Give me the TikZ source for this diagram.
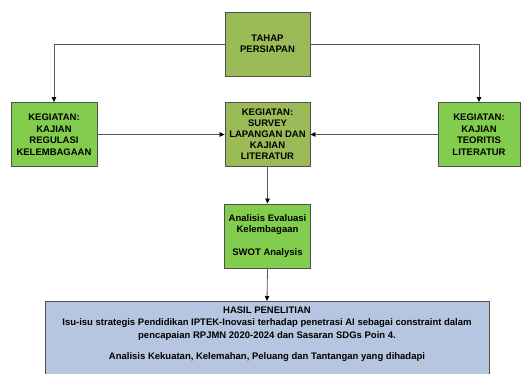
\documentclass[tikz,border=0pt]{standalone}
\usepackage{fontspec}
\setmainfont{Liberation Sans}
\usetikzlibrary{arrows.meta}
\definecolor{olive}{HTML}{9BBB59}
\definecolor{brightgreen}{HTML}{82CD4E}
\definecolor{hasilblue}{HTML}{B7C6E0}
\definecolor{edgegray}{HTML}{505050}
\tikzset{
  box/.style={draw=edgegray, line width=0.9pt, align=center, inner sep=1pt,
    font=\fontsize{9.5}{11.5}\selectfont\bfseries},
  olivebox/.style={box, fill=olive},
  greenbox/.style={box, fill=brightgreen},
  conn/.style={draw=black!65, line width=0.8pt, -{Triangle[length=5pt,width=4.5pt,color=black]}},
}
\begin{document}
\begin{tikzpicture}[x=1pt,y=-1pt]
\clip (0,0) rectangle (521,374);
\fill[white] (0,0) rectangle (521,374);
\node[olivebox, minimum width=85, minimum height=64] (tahap) at (267.5,44) {TAHAP\\PERSIAPAN};
\node[greenbox, minimum width=86, minimum height=64] (left) at (54,134.5) {KEGIATAN:\\KAJIAN\\REGULASI\\KELEMBAGAAN};
\node[olivebox, minimum width=85, minimum height=64, font=\fontsize{9.5}{11}\selectfont\bfseries] (mid) at (267.5,134.5) {KEGIATAN:\\SURVEY\\LAPANGAN DAN\\KAJIAN\\LITERATUR};
\node[greenbox, minimum width=82, minimum height=64] (right) at (479,134.5) {KEGIATAN:\\KAJIAN\\TEORITIS\\LITERATUR};
\node[greenbox, minimum width=86, minimum height=64] (anal) at (267.5,236) {Analisis Evaluasi\\Kelembagaan\\[11.5pt]SWOT Analysis};
\node[box, fill=hasilblue, anchor=north, minimum width=444, minimum height=90] (hasil) at (267,301) {};
\node[font=\fontsize{9.5}{12.5}\selectfont\bfseries, align=center, inner sep=0pt, anchor=north] (hasiltext) at (267,306.5)
 {HASIL PENELITIAN\\Isu-isu strategis Pendidikan IPTEK-Inovasi terhadap penetrasi AI sebagai constraint dalam\\pencapaian RPJMN 2020-2024 dan Sasaran SDGs Poin 4.\\[9pt]Analisis Kekuatan, Kelemahan, Peluang dan Tantangan yang dihadapi};
\draw[conn] (tahap.west) -| (left.north);
\draw[conn] (tahap.east) -| (right.north);
\draw[conn] (left.east) -- (mid.west);
\draw[conn] (right.west) -- (mid.east);
\draw[conn] (mid.south) -- (anal.north);
\draw[conn] (anal.south) -- (hasil.north);
\end{tikzpicture}
\end{document}
